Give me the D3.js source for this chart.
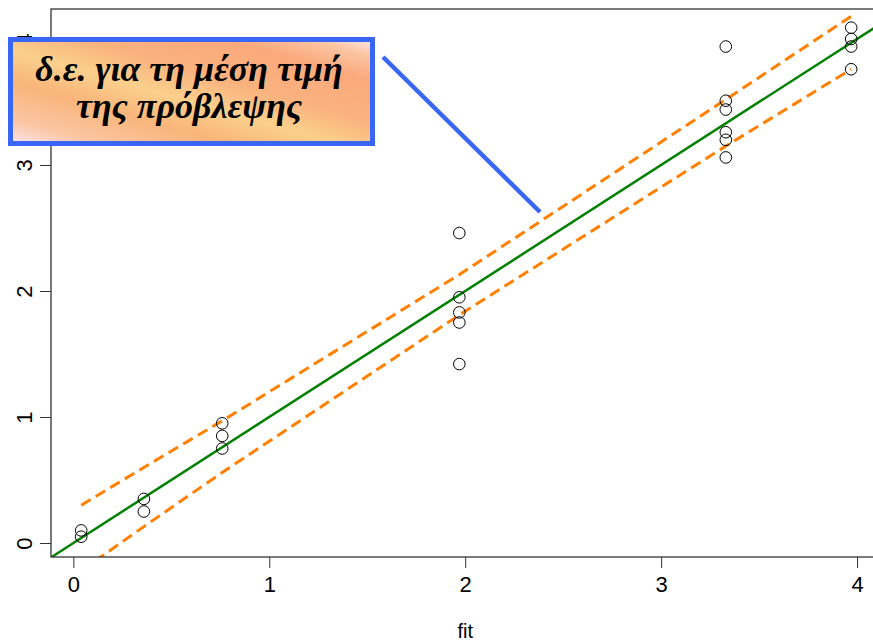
<!DOCTYPE html>
<html>
<head>
<meta charset="utf-8">
<script src="https://cdn.jsdelivr.net/npm/d3@7"></script>
<style>
  body { margin: 0; background: #fff; }
  svg { display: block; }
</style>
</head>
<body>
<script>
// fitted values (x) and observed values (y)
const fitX = [0.04, 0.04, 0.36, 0.36, 0.76, 0.76, 0.76,
  1.97, 1.97, 1.97, 1.97, 1.97,
  3.33, 3.33, 3.33, 3.33, 3.33, 3.33,
  3.97, 3.97, 3.97, 3.97];
const obsY = [0.10, 0.05, 0.35, 0.25, 0.95, 0.85, 0.75,
  2.46, 1.95, 1.83, 1.75, 1.42,
  3.94, 3.51, 3.44, 3.26, 3.20, 3.06,
  4.09, 4.00, 3.94, 3.76];

// confidence band for the mean prediction
const bandX = [0.04, 0.36, 0.76, 1.97, 3.33, 3.97];
const upper = [0.30, 0.60, 0.97, 2.13, 3.52, 4.18];
const lower = [-0.22, 0.13, 0.56, 1.81, 3.15, 3.76];

const xTicks = [0, 1, 2, 3, 4];
const yTicks = [0, 1, 2, 3, 4];
const boxLines = ["δ.ε. για τη μέση τιμή", "της πρόβλεψης"];

const W = 873, H = 641;
const plot = { left: 51, top: 9, right: 880, bottom: 557 };

const x = d3.scaleLinear().domain([-0.114, 4.117]).range([plot.left, plot.right]);
const y = d3.scaleLinear().domain([-0.111, 4.238]).range([plot.bottom, plot.top]);

const svg = d3.select("body").append("svg")
  .attr("width", W).attr("height", H);

const defs = svg.append("defs");
defs.append("clipPath").attr("id", "clip")
  .append("rect")
  .attr("x", plot.left).attr("y", plot.top)
  .attr("width", plot.right - plot.left).attr("height", plot.bottom - plot.top);

// peach fill of the label box
const grad = defs.append("linearGradient").attr("id", "peach")
  .attr("x1", "0%").attr("y1", "100%").attr("x2", "100%").attr("y2", "0%");
[["0%", "#fde4ef"], ["12%", "#fbc6a4"], ["30%", "#f9b57a"], ["45%", "#fbd08c"],
 ["60%", "#fab27e"], ["80%", "#fba97c"], ["92%", "#fcc7a6"], ["100%", "#fde9ea"]]
  .forEach(s => grad.append("stop").attr("offset", s[0]).attr("stop-color", s[1]));

const g = svg.append("g").attr("clip-path", "url(#clip)");

// regression line y = x
g.append("line")
  .attr("x1", x(-0.2)).attr("y1", y(-0.2))
  .attr("x2", x(4.3)).attr("y2", y(4.3))
  .attr("stroke", "#008000").attr("stroke-width", 2.5);

// band lines
const bandLine = d3.line().x((d, i) => x(bandX[i])).y(d => y(d));
[upper, lower].forEach(arr => {
  g.append("path").datum(arr)
    .attr("d", bandLine)
    .attr("fill", "none")
    .attr("stroke", "#ff8000")
    .attr("stroke-width", 3)
    .attr("stroke-dasharray", "11,6");
});

// points
g.selectAll("circle.pt").data(fitX).join("circle")
  .attr("class", "pt")
  .attr("cx", d => x(d))
  .attr("cy", (d, i) => y(obsY[i]))
  .attr("r", 5.8)
  .attr("fill", "none")
  .attr("stroke", "#000")
  .attr("stroke-width", 1);

// frame
svg.append("rect")
  .attr("x", plot.left).attr("y", plot.top)
  .attr("width", plot.right - plot.left).attr("height", plot.bottom - plot.top)
  .attr("fill", "none").attr("stroke", "#333").attr("stroke-width", 1.3);

// x axis
const xAxis = svg.append("g")
  .attr("transform", "translate(0," + plot.bottom + ")")
  .call(d3.axisBottom(x).tickValues(xTicks).tickSize(11).tickPadding(8).tickFormat(d3.format("d")));
xAxis.select(".domain").remove();
xAxis.selectAll("line").attr("stroke", "#333");
xAxis.selectAll("text").attr("font-family", "Liberation Sans, Arial, sans-serif")
  .attr("font-size", 22).attr("fill", "#000");

// y axis (rotated labels, as in R)
const yAxis = svg.append("g")
  .attr("transform", "translate(" + plot.left + ",0)")
  .call(d3.axisLeft(y).tickValues(yTicks).tickSize(11).tickFormat(d3.format("d")));
yAxis.select(".domain").remove();
yAxis.selectAll("line").attr("stroke", "#333");
yAxis.selectAll("text")
  .attr("x", 0).attr("dy", 0)
  .attr("text-anchor", "middle")
  .attr("transform", "translate(-19,0) rotate(-90)")
  .attr("font-family", "Liberation Sans, Arial, sans-serif")
  .attr("font-size", 22).attr("fill", "#000");

svg.append("text")
  .attr("x", x(2.0)).attr("y", 638)
  .attr("text-anchor", "middle")
  .attr("font-family", "Liberation Sans, Arial, sans-serif")
  .attr("font-size", 20)
  .text("fit");

// callout
svg.append("line")
  .attr("x1", 383).attr("y1", 57).attr("x2", 540).attr("y2", 212)
  .attr("stroke", "#3a66f5").attr("stroke-width", 4.5);

svg.append("rect")
  .attr("x", 10.5).attr("y", 39.5).attr("width", 362).attr("height", 104)
  .attr("fill", "url(#peach)")
  .attr("stroke", "#3a66f5").attr("stroke-width", 5);

svg.selectAll("text.lbl").data(boxLines).join("text")
  .attr("class", "lbl")
  .attr("x", 189)
  .attr("y", (d, i) => 81 + i * 37)
  .attr("text-anchor", "middle")
  .attr("font-family", "Liberation Serif, Times New Roman, serif")
  .attr("font-weight", "bold")
  .attr("font-style", "italic")
  .attr("font-size", 36)
  .text(d => d);
</script>
</body>
</html>
